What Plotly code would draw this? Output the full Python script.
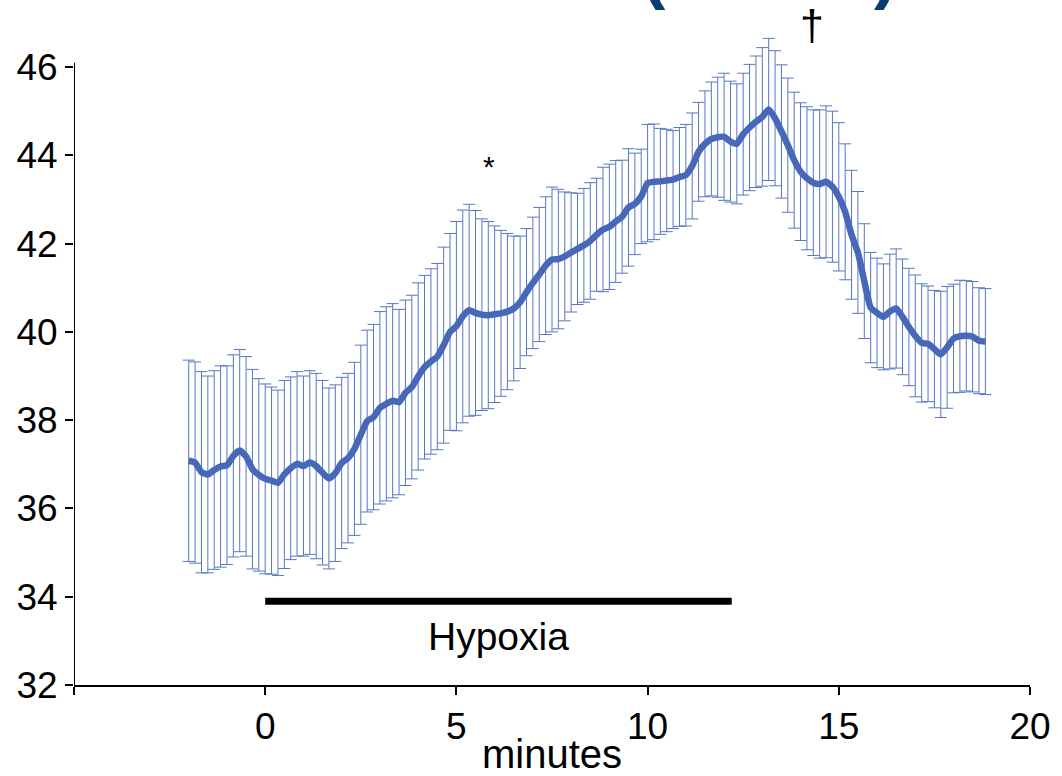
import plotly.graph_objects as go

# sampling grid: one point every 10 s, from -2 min to 18.83 min
seconds = list(range(-120, 1140, 10))
minutes = [s / 60 for s in seconds]

mean_val = [
    37.08, 37.04, 36.82, 36.77, 36.87, 36.95, 36.98, 37.19, 37.31, 37.18,
    36.89, 36.76, 36.67, 36.63, 36.58, 36.77, 36.91, 37.01, 36.96, 37.04,
    36.96, 36.81, 36.68, 36.80, 37.03, 37.14, 37.35, 37.67, 37.98, 38.07,
    38.28, 38.37, 38.44, 38.41, 38.62, 38.75, 38.99, 39.20, 39.33, 39.44,
    39.70, 40.00, 40.13, 40.35, 40.49, 40.43, 40.39, 40.38, 40.40, 40.42,
    40.46, 40.53, 40.67, 40.90, 41.11, 41.30, 41.50, 41.64, 41.65, 41.71,
    41.80, 41.88, 41.96, 42.06, 42.20, 42.32, 42.38, 42.50, 42.61, 42.82,
    42.90, 43.07, 43.37, 43.40, 43.41, 43.43, 43.45, 43.51, 43.55, 43.76,
    44.08, 44.26, 44.37, 44.41, 44.42, 44.31, 44.26, 44.48, 44.63, 44.76,
    44.87, 45.04, 44.84, 44.54, 44.23, 43.89, 43.63, 43.48, 43.38, 43.35,
    43.40, 43.29, 43.06, 42.72, 42.20, 41.80, 41.15, 40.55, 40.43, 40.34,
    40.46, 40.53, 40.34, 40.11, 39.91, 39.75, 39.73, 39.61, 39.49, 39.65,
    39.85, 39.90, 39.91, 39.89, 39.80, 39.78,
]

sd_val = [
    2.28, 2.28, 2.28, 2.23, 2.25, 2.28, 2.25, 2.29, 2.29, 2.26,
    2.26, 2.18, 2.15, 2.12, 2.10, 2.13, 2.07, 2.09, 2.04, 2.08,
    2.10, 2.09, 2.05, 2.00, 1.94, 1.92, 1.96, 2.03, 2.06, 2.10,
    2.18, 2.20, 2.20, 2.10, 2.10, 2.08, 2.12, 2.08, 2.10, 2.11,
    2.22, 2.23, 2.37, 2.41, 2.40, 2.32, 2.17, 2.12, 2.00, 1.88,
    1.77, 1.64, 1.50, 1.44, 1.49, 1.52, 1.56, 1.64, 1.58, 1.46,
    1.35, 1.26, 1.29, 1.32, 1.28, 1.41, 1.42, 1.38, 1.28, 1.33,
    1.15, 1.07, 1.33, 1.31, 1.20, 1.16, 1.11, 1.12, 1.15, 1.20,
    1.12, 1.20, 1.29, 1.36, 1.44, 1.37, 1.36, 1.38, 1.43, 1.49,
    1.57, 1.61, 1.53, 1.51, 1.52, 1.54, 1.56, 1.62, 1.65, 1.68,
    1.72, 1.71, 1.68, 1.54, 1.46, 1.38, 1.30, 1.25, 1.24, 1.20,
    1.30, 1.35, 1.31, 1.33, 1.38, 1.34, 1.31, 1.33, 1.43, 1.38,
    1.23, 1.27, 1.25, 1.25, 1.20, 1.20,
]

hypoxia_start = 0
hypoxia_end = 12.2

FONT = "Liberation Sans, Arial, sans-serif"
BLUE = "#4768b8"

fig = go.Figure()

# error bars (drawn underneath)
fig.add_trace(go.Scatter(
    x=minutes, y=mean_val, mode="markers",
    marker=dict(size=1, color="rgba(0,0,0,0)"),
    error_y=dict(type="data", array=sd_val, color="#5676c4", thickness=1, width=6),
    cliponaxis=False, showlegend=False, hoverinfo="skip",
))

# mean trace
fig.add_trace(go.Scatter(
    x=minutes, y=mean_val, mode="lines",
    line=dict(color=BLUE, width=6.5, shape="spline", smoothing=0.5),
    showlegend=False,
))

# hypoxia period bar
fig.add_shape(type="line", xref="x", yref="y",
              x0=hypoxia_start, x1=hypoxia_end, y0=33.9, y1=33.9,
              line=dict(color="black", width=7))
fig.add_annotation(x=6.1, y=33.1, xref="x", yref="y", text="Hypoxia",
                   showarrow=False, font=dict(size=39, color="black", family=FONT))

# y axis line only up to 46
fig.add_shape(type="line", xref="x", yref="y", x0=-5, x1=-5, y0=32, y1=46.1,
              line=dict(color="black", width=2))

# significance markers
fig.add_annotation(x=5.85, y=43.75, xref="x", yref="y", text="*",
                   showarrow=False, font=dict(size=30, color="black", family=FONT))
fig.add_annotation(x=14.3, y=46.95, xref="x", yref="y", text="†",
                   showarrow=False, font=dict(size=43, color="black", family=FONT))

# cut-off brackets at the very top
fig.add_annotation(x=(654 - 74) / 956, y=(685 - 12) / 685, xref="paper", yref="paper",
                   yanchor="bottom", text="<b>(</b>", showarrow=False,
                   font=dict(size=70, color="#0c3b6c", family=FONT))
fig.add_annotation(x=(899 - 74) / 956, y=(685 - 12) / 685, xref="paper", yref="paper",
                   yanchor="bottom", text="<b>)</b>", showarrow=False,
                   font=dict(size=70, color="#0c3b6c", family=FONT))

fig.update_layout(
    width=1062, height=776,
    margin=dict(l=74, r=32, t=0, b=91),
    plot_bgcolor="white", paper_bgcolor="white",
    font=dict(family=FONT, size=37, color="black"),
)
fig.update_xaxes(
    range=[-5, 20], tickvals=[-5, 0, 5, 10, 15, 20], ticktext=["", "0", "5", "10", "15", "20"],
    showline=True, linecolor="black", linewidth=2, ticks="outside", ticklen=8,
    tickwidth=1.5, tickcolor="black", showgrid=False, zeroline=False, automargin=False,
    title=dict(text="minutes", standoff=2, font=dict(size=40)),
)
fig.update_yaxes(
    range=[32, 32 + 685 / 44.14], tickvals=[32, 34, 36, 38, 40, 42, 44, 46],
    showline=False, ticks="outside", ticklen=8, tickwidth=1.5, tickcolor="black",
    showgrid=False, zeroline=False, automargin=False,
)

# drop the page's default body margin so the figure sits at the window's corner
fig.write_html("out.html", config={"displayModeBar": False},
               post_script="document.body.style.margin = '0';")
